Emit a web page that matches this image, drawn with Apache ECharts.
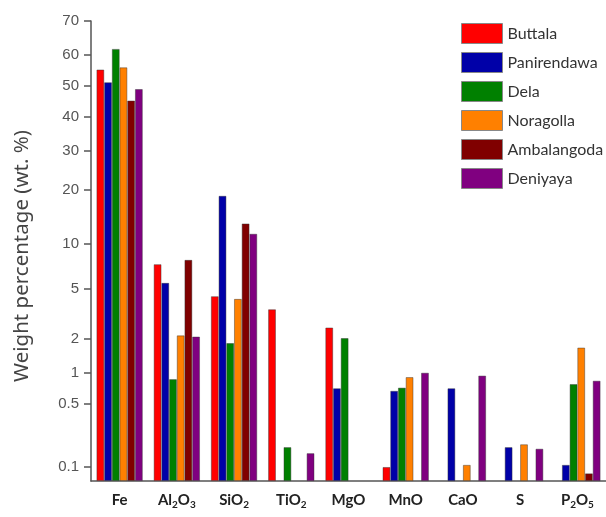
<!DOCTYPE html>
<html>
<head>
<meta charset="utf-8">
<script src="https://cdn.jsdelivr.net/npm/echarts@6/dist/echarts.min.js"></script>
<style>html,body{margin:0;padding:0;background:#fff}#c{width:606px;height:517px}</style>
</head>
<body>
<div id="c"></div>
<script>
const categories = ['Fe','Al2O3','SiO2','TiO2','MgO','MnO','CaO','S','P2O5'];
const seriesNames = ['Buttala','Panirendawa','Dela','Noragolla','Ambalangoda','Deniyaya'];
const buttala     = [55.2, 7.4, 4.4, 3.5, 2.5, 0.10, null, null, null];
const panirendawa = [51.1, 5.5, 18.6, null, 0.71, 0.67, 0.71, 0.17, 0.106];
const dela        = [61.7, 0.87, 1.85, 0.17, 2.04, 0.72, null, null, 0.78];
const noragolla   = [55.9, 2.15, 4.2, null, null, 0.91, 0.106, 0.183, 1.69];
const ambalangoda = [45.2, 7.9, 13.2, null, null, null, null, null, 0.084];
const deniyaya    = [48.9, 2.1, 11.5, 0.145, null, 1.0, 0.94, 0.163, 0.84];
const tickLabels  = [0.1, 0.5, 1, 2, 5, 10, 20, 30, 40, 50, 60, 70];
const yTitle = 'Weight percentage (wt. %)';
const axisMinPct = 0.068, axisMaxPct = 70;
const colors = ['#ff0000','#0000a8','#008000','#ff8000','#800000','#800080'];

// probability (normal quantile) scale transform
function probit(p){
  const a=[-3.969683028665376e+01,2.209460984245205e+02,-2.759285104469687e+02,1.383577518672690e+02,-3.066479806614716e+01,2.506628277459239e+00];
  const b=[-5.447609879822406e+01,1.615858368580409e+02,-1.556989798598866e+02,6.680131188771972e+01,-1.328068155288572e+01];
  const c=[-7.784894002430293e-03,-3.223964580411365e-01,-2.400758277161838e+00,-2.549732539343734e+00,4.374664141464968e+00,2.938163982698783e+00];
  const d=[7.784695709041462e-03,3.224671290700398e-01,2.445134137142996e+00,3.754408661907416e+00];
  const pl=0.02425, ph=1-pl; let q,r;
  if(p<pl){q=Math.sqrt(-2*Math.log(p));return (((((c[0]*q+c[1])*q+c[2])*q+c[3])*q+c[4])*q+c[5])/((((d[0]*q+d[1])*q+d[2])*q+d[3])*q+1);}
  if(p<=ph){q=p-0.5;r=q*q;return (((((a[0]*r+a[1])*r+a[2])*r+a[3])*r+a[4])*r+a[5])*q/(((((b[0]*r+b[1])*r+b[2])*r+b[3])*r+b[4])*r+1);}
  q=Math.sqrt(-2*Math.log(1-p));return -(((((c[0]*q+c[1])*q+c[2])*q+c[3])*q+c[4])*q+c[5])/((((d[0]*q+d[1])*q+d[2])*q+d[3])*q+1);
}
const z0 = probit(axisMinPct/100);
const t = v => v == null ? null : probit(v/100) - z0;
const tickPos = tickLabels.map(t);

const allData = [buttala, panirendawa, dela, noragolla, ambalangoda, deniyaya];
const chart = echarts.init(document.getElementById('c'), null, {renderer:'canvas'});
chart.setOption({
  animation:false,
  backgroundColor:'#fff',
  grid:{left:91, top:21, width:516, height:460, containLabel:false},
  graphic:[{
    type:'text', x:22, y:256, rotation:Math.PI/2,
    style:{text:yTitle, fontFamily:'Noto Sans', fontSize:20.5, fill:'#444', align:'center', verticalAlign:'middle'}
  }],
  legend:{
    orient:'vertical', left:461, top:23, padding:0, itemWidth:41, itemHeight:20, itemGap:8,
    textStyle:{fontFamily:'Lato', fontSize:16, color:'#333', padding:[0,0,0,0]},
    icon:'rect',
    itemStyle:{borderColor:'#888', borderWidth:1},
    data: seriesNames
  },
  xAxis:{
    type:'category', data:categories,
    axisTick:{show:false},
    axisLine:{lineStyle:{color:'#555', width:1.5}},
    axisLabel:{
      interval:0, margin:9,
      formatter: s => s.replace(/([A-Za-z]+)(\d?)/g, (m, w, n) => '{a|'+w+'}' + (n ? '{s|'+n+'}' : '')),
      rich:{
        a:{fontFamily:'Lato', fontWeight:'bold', fontSize:15, color:'#222', lineHeight:20, verticalAlign:'middle'},
        s:{fontFamily:'Lato', fontWeight:'bold', fontSize:10, color:'#222', lineHeight:20, verticalAlign:'middle', padding:[9,0,0,0]}
      }
    }
  },
  yAxis:{
    type:'value', min:0, max:t(axisMaxPct),
    axisLine:{show:true, lineStyle:{color:'#555', width:1.5}},
    axisTick:{show:true, length:7, lineStyle:{color:'#555', width:1.5}, customValues:tickPos},
    splitLine:{show:false},
    axisLabel:{
      customValues:tickPos, margin:12, fontFamily:'Liberation Sans', fontSize:15, color:'#555',
      formatter: v => { let best=0; tickPos.forEach((p,i)=>{ if(Math.abs(p-v)<Math.abs(tickPos[best]-v)) best=i; }); return String(tickLabels[best]); }
    }
  },
  series: seriesNames.map((name, i) => ({
    name, type:'bar', barWidth:7.7, barGap:'0%',
    itemStyle:{color:colors[i], borderColor:'rgba(50,50,50,0.55)', borderWidth:0.8},
    data: allData[i].map(t)
  }))
});
</script>
</body>
</html>
